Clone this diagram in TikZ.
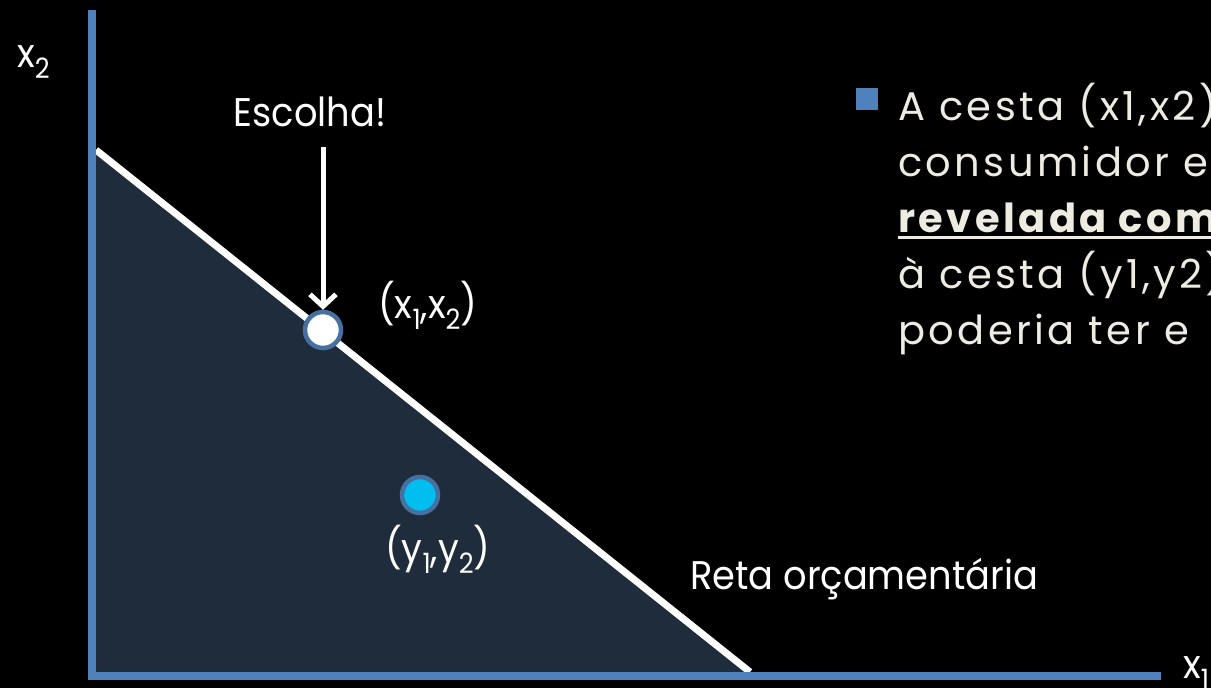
\documentclass[tikz,border=0pt]{standalone}
\usepackage{fontspec}
\setmainfont{Poppins}
\newfontfamily\rotulos[FakeStretch=0.92]{Poppins}
\newfontfamily\corpo[LetterSpace=8.5]{Poppins}
\usetikzlibrary{arrows.meta}
\definecolor{axisblue}{RGB}{79,129,189}
\definecolor{region}{RGB}{30,44,60}
\definecolor{ringblue}{RGB}{70,112,160}
\definecolor{cyanpt}{RGB}{0,191,240}
\definecolor{paper}{RGB}{238,236,225}
\newcommand{\sublinha}[1]{\vtop{\hbox{#1}\kern4pt\hrule height 3pt}}
\newcommand{\indice}[1]{\raisebox{-11pt}{\fontsize{28}{28}\selectfont #1}}

\begin{document}
\begin{tikzpicture}[x=1pt,y=-1pt,
  lbl/.style={text=white, font=\rotulos\fontsize{40}{48}\selectfont, inner sep=0pt},
  txt/.style={text=paper, font=\corpo\fontsize{40}{56}\selectfont, inner sep=0pt, anchor=base west},
  ponto/.style={circle, draw=ringblue, line width=4.5pt, minimum size=36pt, inner sep=0pt}]
  \clip (0,0) rectangle (1211,688);
  \fill[black] (0,0) rectangle (1211,688);
  %% Budget set
  \coordinate (topo) at (96,150);
  \coordinate (origem) at (96,672);
  \coordinate (fim) at (750,672);
  \fill[region] (topo) -- (origem) -- (fim) -- cycle;
  \draw[white, line width=7pt] (topo) -- (fim);
  %% Axes
  \draw[axisblue, line width=8pt] (92,10) -- (92,675.5) -- (1161,675.5);
  \node[lbl, anchor=base west] (x2lab) at (17,67) {x\indice{2}};
  \node[lbl, anchor=base west] (x1lab) at (1183,678) {x\indice{1}};
  %% Chosen bundle
  \node[lbl] (escolha) at (310,112) {Escolha!};
  \coordinate (setaini) at (323,147);
  \node[ponto, fill=white] (xpt) at (323,330) {};
  \draw[white, line width=5pt, -{Straight Barb[length=12pt,width=26pt]}] (setaini) -- (xpt.north);
  \node[lbl, anchor=base west] (xlab) at (378,318) {(x\indice{1},x\indice{2})};
  %% Other bundle
  \node[ponto, fill=cyanpt] (ypt) at (420,495) {};
  \node[lbl, anchor=base west] (ylab) at (385,562) {(y\indice{1},y\indice{2})};
  \node[lbl, anchor=base west] (reta) at (690,589) {Reta orçamentária};
  %% Bullet text
  \node[fill=axisblue, minimum size=22pt, inner sep=0pt] (marca) at (866.5,99) {};
  \node[txt] (linha1) at (898,120) {A cesta (x1,x2)};
  \node[txt] (linha2) at (898,176) {consumidor es};
  \node[txt] (linha3) at (898,232) {\sublinha{\textbf{revelada com}}};
  \node[txt] (linha4) at (898,288) {à cesta (y1,y2)};
  \node[txt] (linha5) at (898,344) {poderia ter e};
\end{tikzpicture}
\end{document}
